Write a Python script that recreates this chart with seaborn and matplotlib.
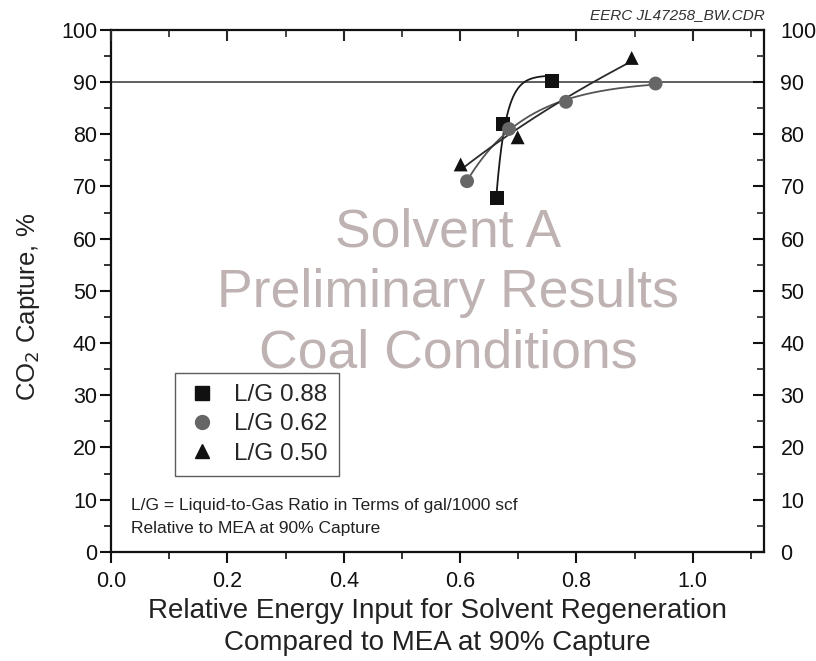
import numpy as np
import pandas as pd
import matplotlib
matplotlib.use("Agg")
import matplotlib.pyplot as plt
from matplotlib.lines import Line2D
import seaborn as sns

# ---- data ----
series_names = ["L/G 0.88", "L/G 0.62", "L/G 0.50"]
x_088 = [0.663, 0.674, 0.758]
y_088 = [67.8, 82.0, 90.1]
x_062 = [0.612, 0.684, 0.782, 0.936]
y_062 = [71.0, 81.0, 86.2, 89.7]
x_050 = [0.601, 0.699, 0.895]
y_050 = [74.2, 79.4, 94.6]
x_ticks = [0.0, 0.2, 0.4, 0.6, 0.8, 1.0]
y_ticks = [0, 10, 20, 30, 40, 50, 60, 70, 80, 90, 100]
target_capture = 90

sns.set_theme(style="white")
plt.rcParams["font.family"] = ["Liberation Sans", "DejaVu Sans"]

fig = plt.figure(figsize=(8.16, 6.61), dpi=100)
ax = fig.add_axes([0.136, 0.165, 0.800, 0.790])

pts = pd.DataFrame({
    "x": x_088 + x_062 + x_050,
    "y": y_088 + y_062 + y_050,
    "s": [series_names[0]] * len(x_088) + [series_names[1]] * len(x_062) + [series_names[2]] * len(x_050),
})

# fitted curves
def exp_fit(x, y, kmax=200):
    x = np.asarray(x); y = np.asarray(y)
    best = None
    for k in np.linspace(1, kmax, 4000):
        A = np.vstack([np.ones_like(x), -np.exp(-k * (x - x.min()))]).T
        coef, res, *_ = np.linalg.lstsq(A, y, rcond=None)
        err = np.sum((A @ coef - y) ** 2)
        if best is None or err < best[0]:
            best = (err, k, coef)
    _, k, coef = best
    xx = np.linspace(x.min(), x.max(), 300)
    return xx, coef[0] - coef[1] * np.exp(-k * (xx - x.min()))

def log_fit(x, y):
    x = np.asarray(x); y = np.asarray(y)
    b, a = np.polyfit(np.log(x), y, 1)
    xx = np.linspace(x.min(), x.max(), 200)
    return xx, a + b * np.log(xx)

cx1, cy1 = exp_fit(x_088, y_088, kmax=60)
cx2, cy2 = exp_fit(x_062, y_062)
cx3, cy3 = log_fit(x_050, y_050)
curves = pd.DataFrame({
    "x": np.concatenate([cx1, cx2, cx3]),
    "y": np.concatenate([cy1, cy2, cy3]),
    "s": [series_names[0]] * len(cx1) + [series_names[1]] * len(cx2) + [series_names[2]] * len(cx3),
})

line_pal = {series_names[0]: "#1a1a1a", series_names[1]: "#555555", series_names[2]: "#2a2a2a"}
mark_pal = {series_names[0]: "#111111", series_names[1]: "#666666", series_names[2]: "#111111"}
mk = {series_names[0]: "s", series_names[1]: "o", series_names[2]: "^"}

ax.axhline(target_capture, color="#444444", lw=1.2, zorder=1)
sns.lineplot(data=curves, x="x", y="y", hue="s", palette=line_pal, ax=ax,
             legend=False, lw=1.3, sort=False, estimator=None, zorder=2)
sns.scatterplot(data=pts, x="x", y="y", hue="s", style="s", markers=mk,
                palette=mark_pal, s=100, edgecolor="none", ax=ax, legend=False, zorder=3)

ax.set_xlim(0, 1.122)
ax.set_ylim(0, 100)
ax.set_xticks(x_ticks)
ax.set_xticklabels([f"{v:.1f}" for v in x_ticks])
ax.set_yticks(y_ticks)
ax.set_xticks(np.arange(0.1, 1.12, 0.2), minor=True)
ax.set_yticks(np.arange(5, 100, 10), minor=True)
for sp in ax.spines.values():
    sp.set_visible(True)
    sp.set_color("#111111")
    sp.set_linewidth(1.6)

ax.tick_params(axis="both", which="both", labelsize=15.5, colors="#111111")
ax.tick_params(axis="x", which="major", direction="out", length=8, width=1.5, pad=6)
ax.tick_params(axis="x", which="minor", direction="out", length=5, width=1.2)
ax.tick_params(axis="y", which="major", direction="out", length=8, width=1.5, pad=2)
ax.tick_params(axis="y", which="minor", direction="out", length=5, width=1.2)
ax.xaxis.set_ticks_position("bottom")
ax.yaxis.set_ticks_position("left")

ax2 = ax.twinx()
ax2.set_ylim(0, 100)
ax2.set_yticks(y_ticks)
ax2.set_yticks(np.arange(5, 100, 10), minor=True)
ax2.tick_params(axis="y", which="major", direction="in", length=8, width=1.5, labelsize=15.5, pad=12, colors="#111111")
ax2.tick_params(axis="y", which="minor", direction="in", length=5, width=1.2)
for sp in ax2.spines.values():
    sp.set_visible(False)

axt = ax.twiny()
axt.set_xlim(0, 1.122)
axt.set_xticks(x_ticks)
axt.set_xticks(np.arange(0.1, 1.12, 0.2), minor=True)
axt.tick_params(axis="x", which="major", direction="in", length=8, width=1.5, labeltop=False)
axt.tick_params(axis="x", which="minor", direction="in", length=5, width=1.2)
for sp in axt.spines.values():
    sp.set_visible(False)

ax.set_xlabel("Relative Energy Input for Solvent Regeneration\nCompared to MEA at 90% Capture",
              fontsize=20, color="#222222", linespacing=1.3, labelpad=4)
ax.set_ylabel("CO$_2$ Capture, %", fontsize=18.5, color="#222222")
ax.yaxis.set_label_coords(-0.106, 0.47)

ax.text(0.516, 0.496, "Solvent A\nPreliminary Results\nCoal Conditions", transform=ax.transAxes,
        ha="center", va="center", fontsize=38.5, color="#bfb2b2", linespacing=1.26, zorder=0)

handles = [Line2D([], [], ls="none", marker=mk[n], color=mark_pal[n], markersize=10) for n in series_names]
leg = ax.legend(handles, series_names, loc="lower left", bbox_to_anchor=(0.098, 0.146),
                borderaxespad=0, fontsize=17.5, frameon=True, fancybox=False, edgecolor="#333333",
                handletextpad=0.7, borderpad=0.45, labelspacing=0.3, handlelength=1.3)
leg.get_frame().set_linewidth(1.0)

ax.text(0.03, 0.067, "L/G = Liquid-to-Gas Ratio in Terms of gal/1000 scf\nRelative to MEA at 90% Capture",
        transform=ax.transAxes, fontsize=12.5, color="#222222", va="center", ha="left", linespacing=1.7)

fig.text(0.937, 0.977, "EERC JL47258_BW.CDR", ha="right", va="center", fontsize=11,
         style="italic", color="#333333")

fig.savefig("out.png", dpi=100)
